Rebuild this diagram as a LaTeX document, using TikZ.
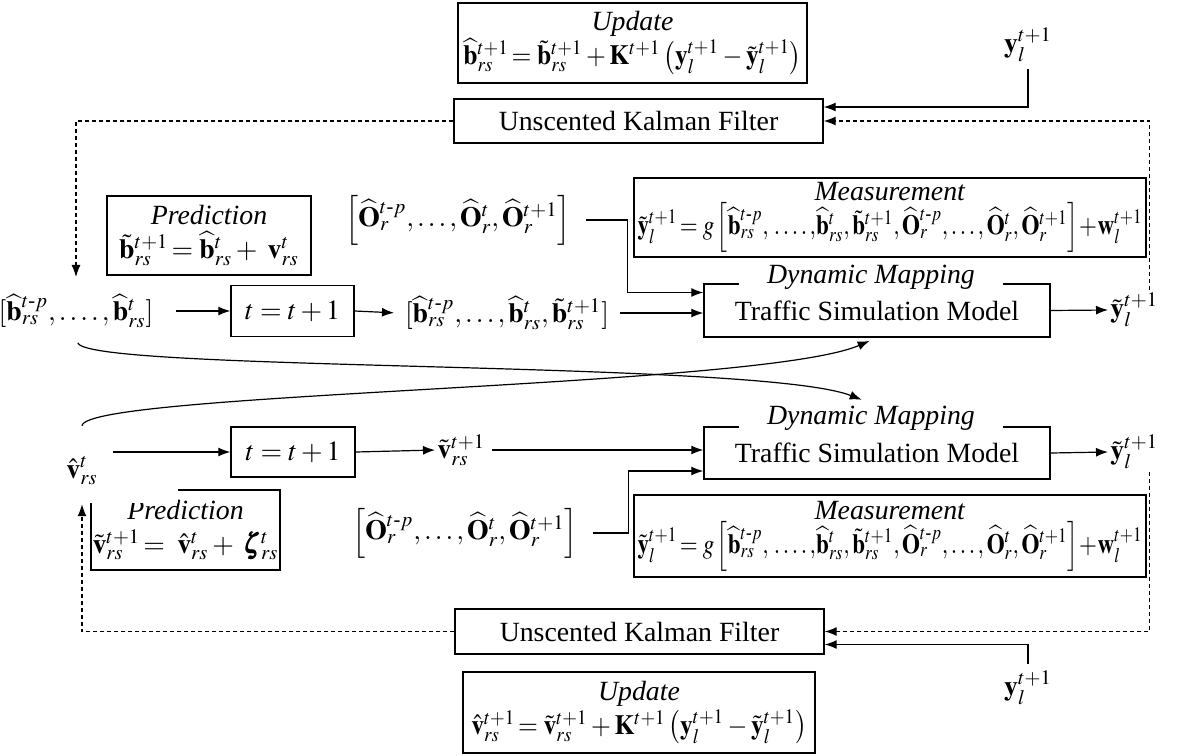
\documentclass[tikz,border=0pt]{standalone}
\usepackage{amsmath}
\usepackage{graphicx}
\usepackage{mathptmx}
\usepackage[no-math]{fontspec}
\setmainfont{Liberation Serif}
\usetikzlibrary{arrows.meta,positioning,calc}

\newcommand{\bhat}{\widehat{\mathbf{b}}}
\newcommand{\btil}{\tilde{\mathbf{b}}}
\newcommand{\Ohat}{\widehat{\mathbf{O}}}
\newcommand{\ytil}{\tilde{\mathbf{y}}}
\newcommand{\vhat}{\hat{\mathbf{v}}}
\newcommand{\vtil}{\tilde{\mathbf{v}}}
\newcommand{\tlag}{t\text{-}p}
% measurement equation, squeezed to fit its box
\newcommand{\measeq}{\scalebox{0.83}[1]{$\ytil^{t+1}_{l}\!=g\left[\bhat^{\tlag}_{rs}{,}\,\ldots\ldotp{,}\bhat^{t}_{rs}{,}\,\btil^{t+1}_{rs}{,}\,\Ohat^{\tlag}_{r}{,}\ldots{,}\,\Ohat^{t}_{r}{,}\,\Ohat^{t+1}_{r}\right]\!+\!\mathbf{w}^{t+1}_{l}$}}

\begin{document}
\begin{tikzpicture}[
    x=0.5pt, y=-0.5pt,
    font=\fontsize{13.9}{17}\selectfont,
    block/.style={rectangle, draw, line width=0.7pt, align=center, inner sep=0pt},
    arrow/.style={line width=0.6pt, -{Latex[length=6pt,width=4.5pt]}},
    feedback/.style={arrow, dash pattern=on 2pt off 1.5pt},
    tag/.style={fill=white, font=\fontsize{13.9}{17}\selectfont\itshape, inner xsep=14pt, inner ysep=1pt}
]
\path[use as bounding box, fill=white] (0,0) rectangle (1177,755);

% Upper loop: state estimation
\node [block, minimum width=174.5pt, minimum height=40pt] (upd) at (632.5,43)
    {\textit{Update}\\ \scalebox{0.92}[1]{$\bhat^{t+1}_{rs}\!=\btil^{t+1}_{rs}+\mathbf{K}^{t+1}\left(\mathbf{y}^{t+1}_{l}-\ytil^{t+1}_{l}\right)$}};
\node [block, minimum width=184.5pt, minimum height=22pt] (ukf) at (638.5,121) {Unscented Kalman Filter};
\node (ymeas) at (1028,45) {$\mathbf{y}^{t+1}_{l}$};
\node [block, minimum width=102pt, minimum height=39.5pt] (pred) at (209,235.5)
    {\textit{Prediction}\\ $\btil^{t+1}_{rs}\!=\bhat^{t}_{rs}+\;\mathbf{v}^{t}_{rs}$};
\node (bvec) at (76,311) {$[\bhat^{\tlag}_{rs},\ldots\ldotp,\bhat^{t}_{rs}]$};
\node [block, minimum width=61.5pt, minimum height=25.5pt] (tstep) at (292.5,311) {$t=t+1$};
\node (bnext) at (507,313) {$[\bhat^{\tlag}_{rs},\ldots,\bhat^{t}_{rs},\btil^{t+1}_{rs}]$};
\node (ovec) at (458,220) {$\left[\Ohat^{\tlag}_{r},\ldots,\Ohat^{t}_{r},\Ohat^{t+1}_{r}\right]$};
\node [block, minimum width=256pt, minimum height=39.5pt] (meas) at (890,217.5)
    {\textit{Measurement}\\ \measeq};
\node [block, minimum width=173pt, minimum height=26.5pt] (tsm) at (877,310.5) {Traffic Simulation Model};
\node [tag] (dmap) at (871,277) {Dynamic Mapping};
\node [anchor=west, inner sep=1pt] (yest) at (1108,310) {$\ytil^{t+1}_{l}$};

% Lower loop: noise estimation
\node [block, minimum width=94.5pt, minimum height=40pt] (predv) at (185.5,530)
    {\textit{Prediction}\\ $\vtil^{t+1}_{rs}\!=\;\vhat^{t}_{rs}+\;\pmb{\zeta}^{t}_{rs}$};
\fill [white] (86,484) rectangle (178,503);
\node (vvec) at (82,471) {$\vhat^{t}_{rs}$};
\node [block, minimum width=62pt, minimum height=25pt] (tstepv) at (293,452) {$t=t+1$};
\node [anchor=west, inner sep=1pt] (vnext) at (435,450) {$\vtil^{t+1}_{rs}$};
\node (ovecv) at (465,533) {$\left[\Ohat^{\tlag}_{r},\ldots,\Ohat^{t}_{r},\Ohat^{t+1}_{r}\right]$};
\node [block, minimum width=173pt, minimum height=26pt] (tsmv) at (877,453) {Traffic Simulation Model};
\node [tag] (dmapv) at (871,418) {Dynamic Mapping};
\node [anchor=west, inner sep=1pt] (yestv) at (1108,452) {$\ytil^{t+1}_{l}$};
\node [block, minimum width=256pt, minimum height=41pt] (measv) at (890,536)
    {\textit{Measurement}\\ \measeq};
\node [block, minimum width=184.5pt, minimum height=22.5pt] (ukfv) at (639.5,631.5) {Unscented Kalman Filter};
\node (ymeasv) at (1028,688) {$\mathbf{y}^{t+1}_{l}$};
\node [block, minimum width=176pt, minimum height=40.5pt] (updv) at (639,712.5)
    {\textit{Update}\\ \scalebox{0.92}[1]{$\vhat^{t+1}_{rs}\!=\vtil^{t+1}_{rs}+\mathbf{K}^{t+1}\left(\mathbf{y}^{t+1}_{l}-\ytil^{t+1}_{l}\right)$}};

% Draw arrows
\draw [arrow, shorten <=8pt] (bvec.east) -- (tstep.west);
\draw [arrow, shorten >=2pt] (tstep.east) -- (bnext.west);
\draw [arrow, shorten <=2pt] (bnext.east) -- (bnext.east -| tsm.west);
\draw [arrow, shorten <=4pt] (ovec.east) -- ++(25pt,0) |- ([yshift=9pt]tsm.west);
\draw [arrow] (tsm.east) -- (yest.west);
\draw [arrow] (ymeas.south) |- ([yshift=7pt]ukf.east);
\draw [feedback] (ukf.west) -| ([yshift=5pt]bvec.north);
\draw [feedback] ([xshift=7.5pt]yest.north) |- (ukf.east);

\draw [arrow, shorten <=4pt] (vvec.east |- tstepv.west) -- (tstepv.west);
\draw [arrow] (tstepv.east) -- (vnext.west);
\draw [arrow, shorten <=2pt] (vnext.east) -- (vnext.east -| tsmv.west);
\draw [arrow, shorten <=4pt] (ovecv.east) -- ++(22pt,0) |- ([yshift=-9pt]tsmv.west);
\draw [arrow] (tsmv.east) -- (yestv.west);
\draw [arrow] (ymeasv.north) |- ([yshift=-6.5pt]ukfv.east);
\draw [feedback] (ukfv.west) -| ([yshift=-6pt]vvec.south);
\draw [feedback] ([xshift=7.5pt]yestv.south) |- (ukfv.east);

% Cross links between the two loops
\draw [arrow, shorten <=4pt, shorten >=5pt] (bvec.south) .. controls (85,372) and (760,360) .. (dmapv.north);
\draw [arrow, shorten >=4pt] ([yshift=12pt]vvec.north) .. controls (85,392) and (760,388) .. (tsm.south);

\end{tikzpicture}
\end{document}
